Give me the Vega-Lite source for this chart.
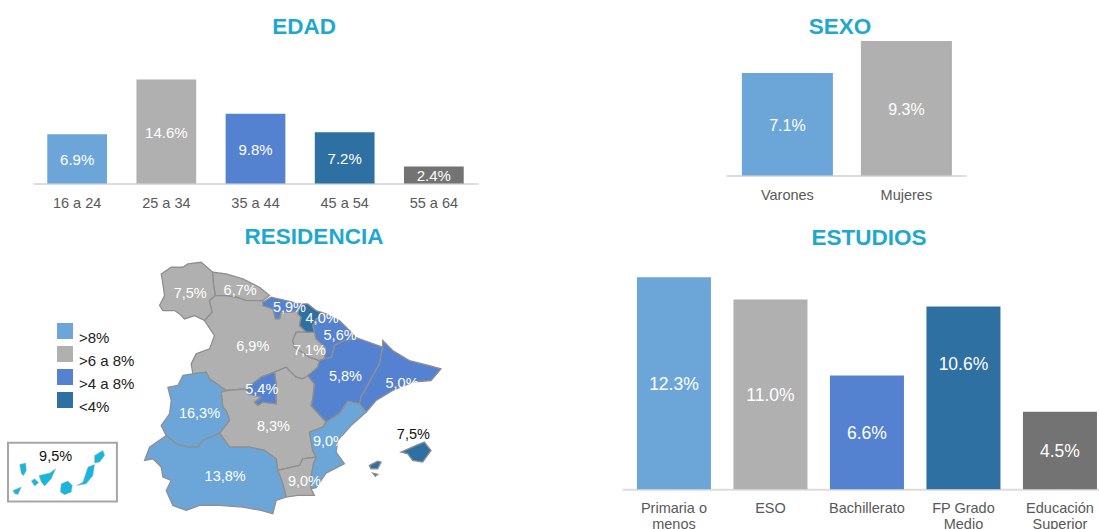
{
"$schema":"https://vega.github.io/schema/vega-lite/v6.json",
"autosize":{"type":"pad"},
"padding":{"left":4,"top":15,"right":0,"bottom":0},
"background":"white",
"config":{"font":"Liberation Sans","view":{"stroke":null},
"title":{"font":"Liberation Sans","fontWeight":"bold","fontSize":22.5,"color":"#1ea8cf","baseline":"alphabetic","anchor":"middle"},
"axisX":{"title":null,"labelAngle":0,"domainColor":"#dcdcdc","domainWidth":2,"ticks":false,"labelFontSize":14.5,"labelColor":"#595959","labelOverlap":false,"labelBound":false,"grid":false}},
"spacing":16,
"resolve":{"scale":{"color":"independent"},"legend":{"color":"independent"}},
"vconcat":[
{"bounds":"flush","spacing":0,"resolve":{"scale":{"color":"independent"},"legend":{"color":"independent"}},"hconcat":[
 {"width":25,"height":10,"data":{"values":[{"a":1}]},"mark":{"type":"rule","opacity":0},"encoding":{}},
 {"width":445,"height":152.5,"title":{"text":"EDAD","dx":48.5,"dy":7,"offset":0},
  "data":{"values":[{"cat":"16 a 24","value":6.9,"label":"6.9%"},{"cat":"25 a 34","value":14.6,"label":"14.6%"},{"cat":"35 a 44","value":9.8,"label":"9.8%"},{"cat":"45 a 54","value":7.2,"label":"7.2%"},{"cat":"55 a 64","value":2.4,"label":"2.4%"}]},
  "encoding":{"x":{"field":"cat","type":"nominal","scale":{"paddingInner":0.33,"paddingOuter":0.16},"axis":{"labelPadding":13}}},
  "layer":[
   {"mark":"bar","encoding":{"y":{"field":"value","type":"quantitative","stack":null,"scale":{"domain":[0,21.4]},"axis":null},"color":{"field":"cat","type":"nominal","legend":null,"scale":{"domain":["16 a 24","25 a 34","35 a 44","45 a 54","55 a 64"],"range":["#6ca6d9","#b0b0b0","#5482d1","#2e70a2","#737373"]}}}},
   {"mark":{"type":"text","color":"white","fontSize":15,"baseline":"middle","dy":1.5},"encoding":{"y":{"field":"value","type":"quantitative","stack":null,"scale":{"domain":[0,42.8]},"axis":null},"text":{"field":"label","type":"nominal"}}}
  ],"resolve":{"scale":{"y":"independent"}}},
 {"width":248,"height":10,"data":{"values":[{"a":1}]},"mark":{"type":"rule","opacity":0},"encoding":{}},
 {"width":240,"height":144.5,"title":{"text":"SEXO","dx":-6,"dy":7,"offset":0},
  "data":{"values":[{"cat":"Varones","value":7.1,"label":"7.1%"},{"cat":"Mujeres","value":9.3,"label":"9.3%"}]},
  "encoding":{"x":{"field":"cat","type":"nominal","sort":["Varones","Mujeres"],"scale":{"paddingInner":0.235,"paddingOuter":0.126,"align":0.53},"axis":{"labelPadding":13}}},
  "layer":[
   {"mark":"bar","encoding":{"y":{"field":"value","type":"quantitative","stack":null,"scale":{"domain":[0,10]},"axis":null},"color":{"field":"cat","type":"nominal","legend":null,"scale":{"domain":["Varones","Mujeres"],"range":["#6ca6d9","#b0b0b0"]}}}},
   {"mark":{"type":"text","color":"white","fontSize":16,"baseline":"middle","dy":2},"encoding":{"y":{"field":"value","type":"quantitative","stack":null,"scale":{"domain":[0,20]},"axis":null},"text":{"field":"label","type":"nominal"}}}
  ],"resolve":{"scale":{"y":"independent"}}}
]},
{"bounds":"flush","spacing":0,"resolve":{"scale":{"color":"independent"},"legend":{"color":"independent"}},"hconcat":[
 {"width":433,"height":252,"title":{"text":"RESIDENCIA","dx":89.5,"dy":0,"offset":11},
  "projection":{"type":"identity"},
  "layer":[
   {"data":{"values":[
    {"type":"Feature","properties":{"region":"Galicia","grupo":">6 a 8%"},"geometry":{"type":"Polygon","coordinates":[[[95,70],[125,50],[160,50],[175,40],[215,35],[250,65],[252,100],[258,135],[240,150],[248,185],[225,210],[195,195],[165,205],[150,190],[135,180],[100,180],[90,165],[105,135],[100,100],[95,70]]]}},
    {"type":"Feature","properties":{"region":"Asturias","grupo":">6 a 8%"},"geometry":{"type":"Polygon","coordinates":[[[250,65],[290,70],[340,85],[390,110],[420,135],[400,150],[350,150],[320,140],[290,135],[258,135],[252,100],[250,65]]]}},
    {"type":"Feature","properties":{"region":"Castilla y León","grupo":">6 a 8%"},"geometry":{"type":"Polygon","coordinates":[[[258,135],[290,135],[320,140],[350,150],[400,150],[400,165],[430,175],[438,205],[450,205],[455,185],[480,185],[510,180],[505,190],[515,200],[510,225],[530,245],[500,245],[490,270],[495,290],[540,320],[570,330],[565,350],[535,378],[520,385],[500,380],[470,350],[435,365],[395,380],[350,415],[290,420],[240,385],[230,365],[190,370],[185,340],[200,310],[240,295],[255,255],[225,210],[248,185],[240,150],[258,135]]]}},
    {"type":"Feature","properties":{"region":"La Rioja","grupo":">6 a 8%"},"geometry":{"type":"Polygon","coordinates":[[[500,245],[530,245],[555,245],[560,265],[588,290],[585,325],[570,330],[540,320],[495,290],[490,270],[500,245]]]}},
    {"type":"Feature","properties":{"region":"Castilla-La Mancha","grupo":">6 a 8%"},"geometry":{"type":"Polygon","coordinates":[[[290,420],[350,415],[355,430],[395,440],[375,455],[385,465],[400,455],[440,460],[440,400],[435,365],[470,350],[500,380],[520,385],[535,375],[555,400],[550,445],[545,465],[590,515],[580,530],[540,545],[550,600],[560,620],[520,625],[510,645],[445,660],[440,625],[405,600],[360,590],[300,590],[270,548],[300,510],[290,480],[280,470],[275,425],[290,420]]]}},
    {"type":"Feature","properties":{"region":"Murcia","grupo":">6 a 8%"},"geometry":{"type":"Polygon","coordinates":[[[445,660],[510,645],[520,625],[560,620],[552,640],[545,680],[545,715],[555,735],[505,735],[470,740],[460,700],[445,660]]]}},
    {"type":"Feature","properties":{"region":"Cantabria","grupo":">4 a 8%"},"geometry":{"type":"Polygon","coordinates":[[[400,155],[425,140],[470,150],[512,160],[510,180],[480,185],[455,185],[450,205],[438,205],[430,175],[400,165],[400,155]]]}},
    {"type":"Feature","properties":{"region":"Navarra","grupo":">4 a 8%"},"geometry":{"type":"Polygon","coordinates":[[[560,205],[590,190],[630,210],[660,240],[682,262],[640,272],[615,285],[607,320],[585,325],[588,290],[560,265],[555,245],[550,225],[560,205]]]}},
    {"type":"Feature","properties":{"region":"Madrid","grupo":">4 a 8%"},"geometry":{"type":"Polygon","coordinates":[[[435,365],[440,400],[440,460],[400,455],[385,465],[375,455],[395,440],[355,430],[350,415],[395,380],[435,365]]]}},
    {"type":"Feature","properties":{"region":"Aragón","grupo":">4 a 8%"},"geometry":{"type":"Polygon","coordinates":[[[615,285],[640,272],[682,262],[760,290],[750,340],[720,395],[695,440],[690,460],[655,452],[630,490],[590,515],[545,465],[550,445],[555,400],[535,375],[565,350],[570,330],[585,325],[607,320],[615,285]]]}},
    {"type":"Feature","properties":{"region":"Cataluña","grupo":">4 a 8%"},"geometry":{"type":"Polygon","coordinates":[[[760,270],[790,300],[840,330],[900,345],[935,355],[905,390],[850,395],[790,420],[740,450],[710,485],[690,460],[695,440],[720,395],[750,340],[760,290],[760,270]]]}},
    {"type":"Feature","properties":{"region":"País Vasco","grupo":"<4%"},"geometry":{"type":"Polygon","coordinates":[[[512,160],[535,160],[560,180],[590,190],[560,205],[550,225],[555,245],[530,245],[510,225],[515,200],[505,190],[512,160]]]}},
    {"type":"Feature","properties":{"region":"Baleares","grupo":"<4%"},"geometry":{"type":"MultiPolygon","coordinates":[[[[815,605],[860,585],[885,575],[905,600],[880,635],[850,630],[835,610],[815,605]]],[[[720,645],[745,632],[755,635],[745,655],[725,655],[720,645]]],[[[730,668],[745,672],[738,678],[730,668]]]]}},
    {"type":"Feature","properties":{"region":"C. Valenciana","grupo":">8%"},"geometry":{"type":"Polygon","coordinates":[[[655,452],[690,460],[710,485],[665,525],[625,570],[620,605],[645,640],[590,668],[560,712],[545,715],[545,680],[552,640],[560,620],[550,600],[540,545],[580,530],[590,515],[630,490],[655,452]]]}},
    {"type":"Feature","properties":{"region":"Extremadura","grupo":">8%"},"geometry":{"type":"Polygon","coordinates":[[[160,375],[190,370],[230,365],[240,385],[290,420],[275,425],[280,470],[290,480],[300,510],[270,548],[220,570],[205,590],[175,590],[140,580],[110,555],[95,525],[120,490],[125,450],[115,410],[145,405],[160,375]]]}},
    {"type":"Feature","properties":{"region":"Andalucía","grupo":">8%"},"geometry":{"type":"Polygon","coordinates":[[[45,630],[60,590],[110,555],[140,580],[175,590],[205,590],[220,570],[270,548],[300,590],[360,590],[405,600],[440,625],[445,660],[460,700],[470,740],[440,750],[430,790],[395,780],[340,770],[270,765],[210,765],[170,780],[130,765],[110,720],[125,690],[100,680],[95,650],[70,625],[45,630]]]}}
   ]},
   "mark":{"type":"geoshape","stroke":"#8f8f8f","strokeWidth":1.3},
   "encoding":{"color":{"field":"properties.grupo","type":"nominal","scale":{"domain":[">8%",">6 a 8%",">4 a 8%","<4%"],"range":["#6ca6d9","#b0b0b0","#5482d1","#2e70a2"]},"legend":{"title":null,"orient":"none","legendX":49,"legendY":61,"symbolType":"square","symbolSize":256,"symbolStrokeWidth":0,"labelFontSize":15,"labelColor":"#222222","labelOffset":6,"labelBaseline":"top","rowPadding":-7.1,"padding":0}}}},
   {"data":{"values":[
    {"type":"Feature","properties":{"region":"Canarias","isla":"El Hierro"},"geometry":{"type":"Polygon","coordinates":[[[-350,720],[-325,710],[-335,732],[-345,730],[-350,720]]]}},
    {"type":"Feature","properties":{"region":"Canarias","isla":"La Palma"},"geometry":{"type":"Polygon","coordinates":[[[-330,642],[-312,638],[-310,660],[-318,675],[-325,670],[-330,642]]]}},
    {"type":"Feature","properties":{"region":"Canarias","isla":"La Gomera"},"geometry":{"type":"Polygon","coordinates":[[[-295,692],[-285,685],[-273,697],[-285,707],[-295,692]]]}},
    {"type":"Feature","properties":{"region":"Canarias","isla":"Tenerife"},"geometry":{"type":"Polygon","coordinates":[[[-272,675],[-240,668],[-222,655],[-235,685],[-255,707],[-265,695],[-272,675]]]}},
    {"type":"Feature","properties":{"region":"Canarias","isla":"Gran Canaria"},"geometry":{"type":"Polygon","coordinates":[[[-205,700],[-185,692],[-172,705],[-175,725],[-195,733],[-208,725],[-205,700]]]}},
    {"type":"Feature","properties":{"region":"Canarias","isla":"Fuerteventura"},"geometry":{"type":"Polygon","coordinates":[[[-158,705],[-140,695],[-125,650],[-105,642],[-110,675],[-130,700],[-158,705]]]}},
    {"type":"Feature","properties":{"region":"Canarias","isla":"Lanzarote"},"geometry":{"type":"Polygon","coordinates":[[[-105,615],[-80,600],[-75,615],[-90,635],[-105,638],[-105,615]]]}}
   ]},
   "mark":{"type":"geoshape","fill":"#1ab5dc","stroke":"#8fb8c8","strokeWidth":0.5}},
   {"data":{"values":[{"type":"Feature","properties":{"region":"Recuadro Canarias"},"geometry":{"type":"Polygon","coordinates":[[[-365,577],[-38,577],[-38,753],[-365,753],[-365,577]]]}}]},
   "mark":{"type":"geoshape","filled":false,"stroke":"#a6a6a6","strokeWidth":2}},
   {"data":{"values":[
    {"label":"7,5%","lon":182,"lat":127},{"label":"6,7%","lon":332,"lat":117},{"label":"5,9%","lon":480,"lat":170},{"label":"4,0%","lon":578,"lat":202},{"label":"5,6%","lon":632,"lat":252},{"label":"7,1%","lon":540,"lat":298},{"label":"6,9%","lon":370,"lat":287},{"label":"5,4%","lon":397,"lat":417},{"label":"5,8%","lon":648,"lat":375},{"label":"5,0%","lon":818,"lat":397},{"label":"16,3%","lon":210,"lat":487},{"label":"8,3%","lon":432,"lat":527},{"label":"9,0%","lon":600,"lat":572},{"label":"13,8%","lon":287,"lat":677},{"label":"9,0%","lon":525,"lat":692}
   ]},
   "mark":{"type":"text","color":"white","fontSize":14.5,"baseline":"middle","dy":1},
   "encoding":{"longitude":{"field":"lon","type":"quantitative"},"latitude":{"field":"lat","type":"quantitative"},"text":{"field":"label","type":"nominal"}}},
   {"data":{"values":[{"label":"7,5%","lon":852,"lat":550},{"label":"9,5%","lon":-222,"lat":617}]},
   "mark":{"type":"text","color":"#111111","fontSize":14.5,"baseline":"middle","dy":1},
   "encoding":{"longitude":{"field":"lon","type":"quantitative"},"latitude":{"field":"lat","type":"quantitative"},"text":{"field":"label","type":"nominal"}}}
  ]},
 {"width":181,"height":10,"data":{"values":[{"a":1}]},"mark":{"type":"rule","opacity":0},"encoding":{}},
 {"width":477,"height":227.3,"title":{"text":"ESTUDIOS","dx":8.5,"dy":0,"offset":13},
  "data":{"values":[{"cat":"Primaria o menos","value":12.3,"label":"12.3%"},{"cat":"ESO","value":11.0,"label":"11.0%"},{"cat":"Bachillerato","value":6.6,"label":"6.6%"},{"cat":"FP Grado Medio","value":10.6,"label":"10.6%"},{"cat":"Educación Superior","value":4.5,"label":"4.5%"}]},
  "encoding":{"x":{"field":"cat","type":"nominal","sort":["Primaria o menos","ESO","Bachillerato","FP Grado Medio","Educación Superior"],"scale":{"paddingInner":0.233,"paddingOuter":0.088,"align":0.88},"axis":{"labelPadding":12,"labelLineHeight":16,"labelExpr":"datum.label == 'Primaria o menos' ? ['Primaria o','menos'] : datum.label == 'FP Grado Medio' ? ['FP Grado','Medio'] : datum.label == 'Educación Superior' ? ['Educación','Superior'] : datum.label"}}},
  "layer":[
   {"mark":"bar","encoding":{"y":{"field":"value","type":"quantitative","stack":null,"scale":{"domain":[0,13.18]},"axis":null},"color":{"field":"cat","type":"nominal","legend":null,"scale":{"domain":["Primaria o menos","ESO","Bachillerato","FP Grado Medio","Educación Superior"],"range":["#6ca6d9","#b0b0b0","#5482d1","#2e70a2","#737373"]}}}},
   {"transform":[{"filter":"datum.cat != 'FP Grado Medio'"}],"mark":{"type":"text","color":"white","fontSize":17.5,"baseline":"middle","dy":2},"encoding":{"y":{"field":"value","type":"quantitative","stack":null,"scale":{"domain":[0,26.36]},"axis":null},"text":{"field":"label","type":"nominal"}}},
   {"transform":[{"filter":"datum.cat == 'FP Grado Medio'"}],"mark":{"type":"text","color":"white","fontSize":17.5,"baseline":"middle","dy":-33},"encoding":{"y":{"field":"value","type":"quantitative","stack":null,"scale":{"domain":[0,26.36]},"axis":null},"text":{"field":"label","type":"nominal"}}}
  ],"resolve":{"scale":{"y":"independent"}}}
]}
]}
